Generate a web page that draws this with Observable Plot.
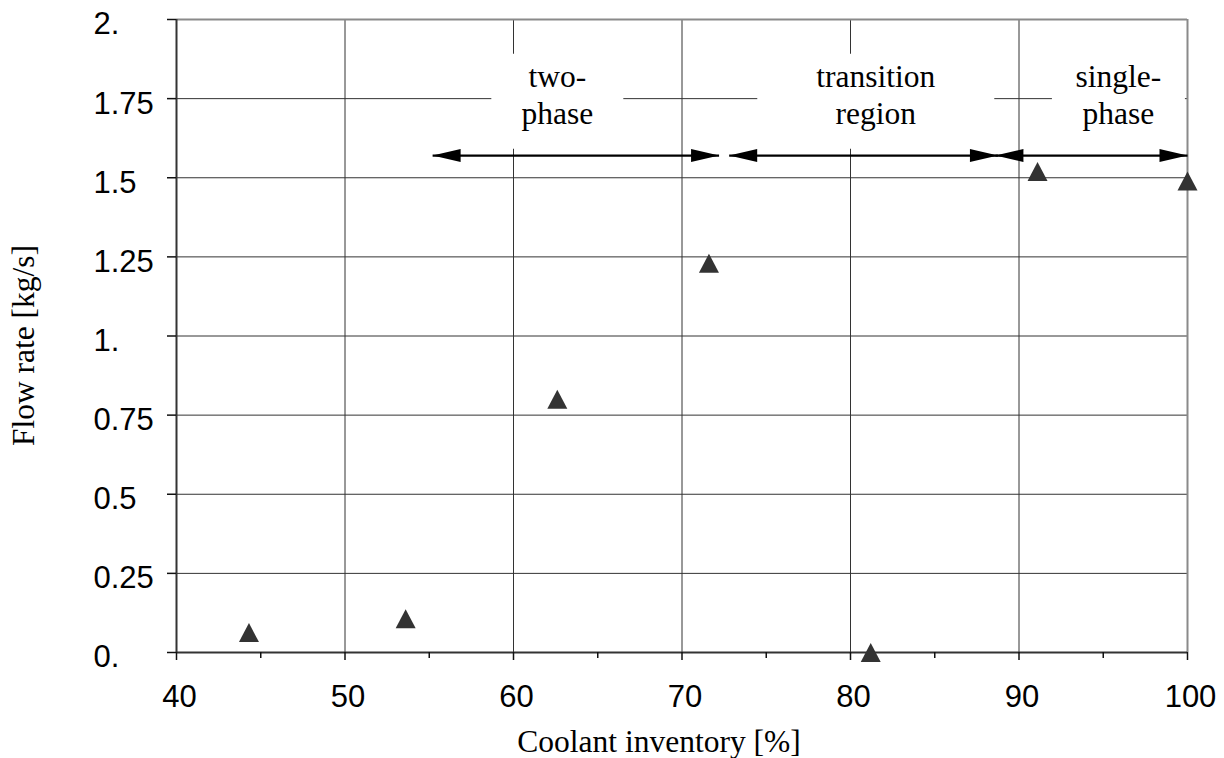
<!DOCTYPE html>
<html>
<head>
<meta charset="utf-8">
<script src="https://cdn.jsdelivr.net/npm/d3@7"></script>
<script src="https://cdn.jsdelivr.net/npm/@observablehq/plot@0.6"></script>
<style>
  html, body { margin: 0; padding: 0; background: white; }
</style>
</head>
<body>
<div id="chart"></div>
<script>
// ---- data ----
const inventory = [44.3, 53.6, 62.6, 71.6, 81.2, 91.1, 100];
const flowRate  = [0.063, 0.107, 0.80, 1.23, 0.0, 1.52, 1.49];

const xTicks = [40, 50, 60, 70, 80, 90, 100];
const xMinorTicks = [45, 55, 65, 75, 85, 95];
const yTicks = [0, 0.25, 0.5, 0.75, 1, 1.25, 1.5, 1.75, 2];
const yTickLabels = ["0.", "0.25", "0.5", "0.75", "1.", "1.25", "1.5", "1.75", "2."];

const regionNames = ["two-\nphase", "transition\nregion", "single-\nphase"];
const regionCenters = [62.6, 81.5, 95.9];
const arrowStarts = [55.2, 72.8, 88.6];
const arrowEnds = [72.2, 88.75, 100];
const arrowLevel = 1.57;
const regionTextLevel = 1.67;
const regionBoxLevel = 1.742;

const xLabel = "Coolant inventory [%]";
const yLabel = "Flow rate [kg/s]";

// ---- derived tables ----
const points = inventory.map((x, i) => ({x, y: flowRate[i]}));
const arrows = arrowStarts.map((x1, i) => ({x1, x2: arrowEnds[i], y: arrowLevel}));
const regions = regionNames.map((name, i) => ({name, x: regionCenters[i]}));

// ---- styles / custom symbols ----
const serif = "'Liberation Serif', 'Times New Roman', serif";
const sans = "'Liberation Sans', Arial, sans-serif";
const boxWidths = [132, 237, 133];
const boxHeight = 95;
const boxSymbol = (w, h) => ({draw(ctx) { ctx.rect(-w / 2, -h / 2, w, h); }});
const triangle = {draw(ctx) { const w = 20, h = 19; ctx.moveTo(0, -h / 2); ctx.lineTo(w / 2, h / 2); ctx.lineTo(-w / 2, h / 2); ctx.closePath(); }};
const headLen = 28, headHalf = 6.5;
const headRight = {draw(ctx) { ctx.moveTo(0, 0); ctx.lineTo(-headLen, -headHalf); ctx.lineTo(-headLen, headHalf); ctx.closePath(); }};
const headLeft = {draw(ctx) { ctx.moveTo(0, 0); ctx.lineTo(headLen, -headHalf); ctx.lineTo(headLen, headHalf); ctx.closePath(); }};

const chart = Plot.plot({
  width: 1224,
  height: 758,
  marginLeft: 176,
  marginRight: 37,
  marginTop: 19,
  marginBottom: 106,
  style: {fontFamily: sans, fontSize: "31px", background: "white", color: "black"},
  x: {domain: [40, 100]},
  y: {domain: [0, 2]},
  marks: [
    // grid
    Plot.ruleX(xTicks.slice(1, -1), {stroke: "#333", strokeWidth: 1}),
    Plot.ruleY(yTicks.slice(1, -1), {stroke: "#333", strokeWidth: 1}),
    // white boxes behind region labels
    ...regions.map((r, i) => Plot.dot([r], {x: "x", y: () => regionBoxLevel, r: 1, symbol: boxSymbol(boxWidths[i], boxHeight), fill: "white"})),
    // frame
    Plot.ruleY([2], {stroke: "#8a8a8a", strokeWidth: 2}),
    Plot.ruleX([100], {stroke: "#8a8a8a", strokeWidth: 2}),
    Plot.ruleX([40], {stroke: "#333", strokeWidth: 2}),
    Plot.ruleY([0], {stroke: "#333", strokeWidth: 2}),
    // x axis
    Plot.axisX({ticks: xTicks, tickSize: 8, text: null, stroke: "#111", strokeWidth: 1.5, label: null}),
    Plot.axisX({ticks: xTicks, tickSize: 0, tickPadding: 32, fontSize: 31, dx: 3, tickFormat: d => String(d), label: null}),
    Plot.axisX({ticks: xMinorTicks, tickSize: 6, text: null, stroke: "#111", strokeWidth: 1.5, label: null}),
    // y axis
    Plot.axisY({ticks: yTicks, tickSize: 9, text: null, stroke: "#111", strokeWidth: 1.5, label: null}),
    Plot.text(yTicks, {y: d => d, text: (d, i) => yTickLabels[i], frameAnchor: "left", textAnchor: "start", dx: -83, dy: 5, fontSize: 31, fontFamily: sans, fill: "black"}),
    // axis labels
    Plot.text([xLabel], {frameAnchor: "bottom", text: d => d, textAnchor: "middle", lineAnchor: "bottom", dx: -23, dy: 99, fontSize: 31.5, fontFamily: serif, fill: "black"}),
    Plot.text([yLabel], {frameAnchor: "left", text: d => d, textAnchor: "middle", rotate: -90, lineAnchor: "bottom", dx: -143, dy: 9.5, fontSize: 31.5, fontFamily: serif, fill: "black"}),
    // region arrows
    Plot.link(arrows, {x1: "x1", x2: "x2", y1: "y", y2: "y", stroke: "black", strokeWidth: 2.3}),
    Plot.dot(arrows, {x: "x1", y: "y", r: 1, symbol: headLeft, fill: "black"}),
    Plot.dot(arrows, {x: "x2", y: "y", r: 1, symbol: headRight, fill: "black"}),
    // region labels
    Plot.text(regions, {x: "x", y: () => regionTextLevel, text: "name", lineAnchor: "bottom", lineHeight: 1.175, fontSize: 31.5, fontFamily: serif, fill: "black"}),
    // data points
    Plot.dot(points, {x: "x", y: "y", r: 8, symbol: triangle, fill: "#333"})
  ]
});
document.getElementById("chart").appendChild(chart);
</script>
</body>
</html>
